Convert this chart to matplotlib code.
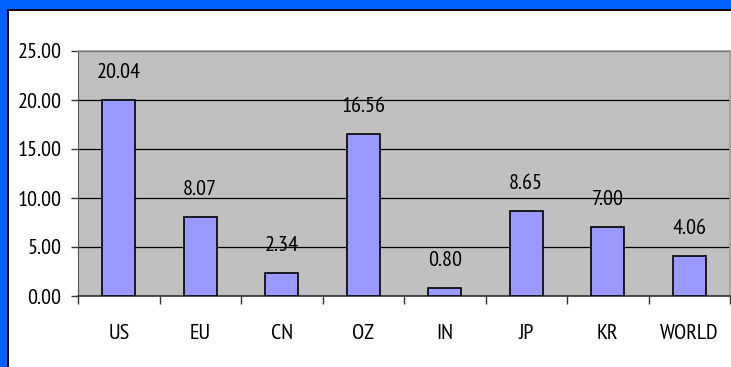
import matplotlib
matplotlib.use("Agg")
import matplotlib.pyplot as plt
from matplotlib.patches import Rectangle

regions = ["US", "EU", "CN", "OZ", "IN", "JP", "KR", "WORLD"]
values = [20.04, 8.07, 2.34, 16.56, 0.80, 8.65, 7.00, 4.06]
y_ticks = [0.0, 5.0, 10.0, 15.0, 20.0, 25.0]

plt.rcParams["font.family"] = ["PT Sans Narrow", "DejaVu Sans"]
FS = 16

W, H = 731, 367
fig = plt.figure(figsize=(W / 100, H / 100), dpi=100)
fig.patch.set_facecolor("white")

# window frame: blue band on top and left, with a dark inner edge
blue = "#0062FF"
fig.patches.append(Rectangle((0, 1 - 9 / H), 1, 9 / H, transform=fig.transFigure,
                             facecolor=blue, edgecolor="none", zorder=0))
fig.patches.append(Rectangle((0, 0), 7 / W, 1, transform=fig.transFigure,
                             facecolor=blue, edgecolor="none", zorder=0))
fig.patches.append(Rectangle((7 / W, 1 - 11 / H), 1, 2 / H, transform=fig.transFigure,
                             facecolor="black", edgecolor="none", zorder=1))
fig.patches.append(Rectangle((7 / W, 0), 2 / W, 1 - 9 / H, transform=fig.transFigure,
                             facecolor="black", edgecolor="none", zorder=1))

left, right, top, bottom = 78, 730, 51, 296
ax = fig.add_axes([left / W, (H - bottom) / H, (right - left) / W, (bottom - top) / H])
ax.set_facecolor("#C0C0C0")

x = list(range(len(regions)))
ax.bar(x, values, width=0.41, color="#9999FF", edgecolor="black", linewidth=1.2, zorder=3)
for xi, v in zip(x, values):
    ax.text(xi, v + 2.8, f"{v:.2f}", ha="center", va="center", fontsize=FS, zorder=4)

ax.set_xlim(-0.5, len(regions) - 0.5)
ax.set_ylim(0, 25)
ax.set_yticks(y_ticks)
ax.set_yticklabels([f"{t:.2f}" for t in y_ticks], fontsize=FS)
ax.yaxis.grid(True, color="black", linewidth=0.9, zorder=1)
ax.set_axisbelow(True)

ax.set_xticks([i + 0.5 for i in range(-1, len(regions))])
ax.set_xticklabels([])
ax.set_xticks(x, minor=True)
ax.set_xticklabels(regions, minor=True, fontsize=FS)
ax.tick_params(axis="x", which="major", length=6, width=1, color="#333333", direction="out")
ax.tick_params(axis="x", which="minor", length=0, pad=20)
ax.tick_params(axis="y", length=5, width=1, color="#333333", pad=7)

for side in ["top", "right"]:
    ax.spines[side].set_color("#999999")
    ax.spines[side].set_linewidth(1.2)
ax.spines["left"].set_color("#555555")
ax.spines["bottom"].set_color("#333333")
ax.spines["bottom"].set_linewidth(1.2)

fig.savefig("out.png", dpi=100)
